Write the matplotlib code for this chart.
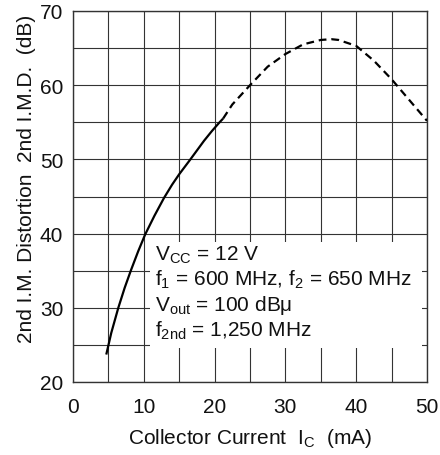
import numpy as np
import matplotlib
matplotlib.use("Agg")
import matplotlib.pyplot as plt

plt.rcParams['font.family'] = ['Liberation Sans', 'DejaVu Sans']
plt.rcParams['mathtext.fontset'] = 'custom'
plt.rcParams['mathtext.rm'] = 'Liberation Sans'
plt.rcParams['mathtext.it'] = 'Liberation Sans'

# measured part of the curve (solid)
ic_solid = [4.7, 5.4, 6.4, 7.3, 8.2, 9.2, 10.2, 11.5, 12.85, 14.0, 15.0, 16.5, 17.5, 18.5, 19.6, 20.7, 21.2]
imd_solid = [23.7, 26.6, 30.0, 32.7, 35.1, 37.6, 39.9, 42.4, 44.8, 46.6, 48.0, 49.9, 51.2, 52.5, 53.8, 55.0, 55.5]

# extrapolated part (dashed)
ic_dash = [21.2, 22.5, 25, 27.5, 30, 32.5, 35, 36.5, 37.5, 40, 42.5, 45, 47.5, 50]
imd_dash = [55.5, 57.4, 60.0, 62.5, 64.2, 65.5, 66.1, 66.2, 66.1, 65.3, 63.3, 60.8, 58.0, 55.2]

info_lines = [r"V$_\mathregular{CC}$ = 12 V",
              r"f$_\mathregular{1}$ = 600 MHz, f$_\mathregular{2}$ = 650 MHz",
              r"V$_\mathregular{out}$ = 100 dBμ",
              r"f$_\mathregular{2nd}$ = 1,250 MHz"]
info_y = [36.48, 33.07, 29.66, 26.24]

fig = plt.figure(figsize=(4.4, 4.56), dpi=100)
ax = fig.add_axes([73/440, 1 - 383/456, 354/440, 371/456])

ax.set_xlim(0, 50)
ax.set_ylim(20, 70)
ax.set_xticks(np.arange(0, 51, 10))
ax.set_yticks(np.arange(20, 71, 10))
ax.set_xticks(np.arange(0, 51, 5), minor=True)
ax.set_yticks(np.arange(20, 71, 5), minor=True)
ax.grid(True, which='both', color='#333333', linewidth=0.8)
ax.tick_params(which='both', length=0, labelsize=15, colors='#111111')
ax.tick_params(axis='x', pad=11)
ax.tick_params(axis='y', pad=7)
for s in ax.spines.values():
    s.set_color('#333333')
    s.set_linewidth(1.0)
ax.set_axisbelow(True)

ax.plot(ic_solid, imd_solid, color='black', linewidth=1.6, zorder=3,
        solid_capstyle='butt', solid_joinstyle='round')
ax.plot(ic_dash, imd_dash, color='black', linewidth=1.6, linestyle=(0, (3.5, 2.2)), zorder=3)

# white panel behind the conditions text
ax.fill_between([10.9, 49.25], 24.6, 38.9, color='white', zorder=2, linewidth=0)
for line, yy in zip(info_lines, info_y):
    ax.text(11.55, yy, line, fontsize=15, va='baseline', ha='left',
            zorder=4, color='#111111')

ax.set_xlabel(r"Collector Current  I$_\mathregular{C}$  (mA)", fontsize=15, labelpad=7, color='#111111')
ax.set_ylabel("2nd I.M. Distortion  2nd I.M.D.  (dB)", fontsize=15, color='#111111')
ax.yaxis.set_label_coords(-0.1045, 0.55)

fig.savefig("out.png", dpi=100)
